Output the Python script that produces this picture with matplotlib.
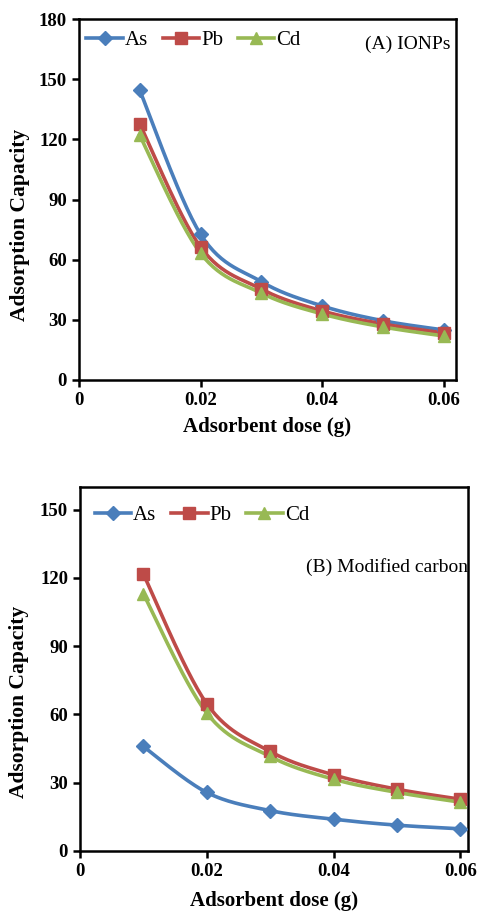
import numpy as np
import matplotlib
matplotlib.use("Agg")
import matplotlib.pyplot as plt

plt.rcParams['font.family'] = ['Liberation Serif', 'DejaVu Serif']

dose = [0.01, 0.02, 0.03, 0.04, 0.05, 0.06]

# (A) IONPs
as_a = [144.5, 72.7, 49.0, 36.9, 29.5, 24.9]
pb_a = [127.7, 66.3, 45.3, 34.4, 27.9, 23.4]
cd_a = [122.0, 63.2, 43.3, 32.9, 26.4, 21.9]

# (B) Modified carbon
as_b = [45.9, 25.7, 17.7, 13.9, 11.3, 9.7]
pb_b = [121.7, 64.7, 43.7, 33.4, 27.1, 22.7]
cd_b = [113.0, 60.6, 41.5, 31.5, 25.7, 21.4]

names = ['As', 'Pb', 'Cd']
colors = ['#4A7EBB', '#BE4B48', '#98B954']
markers = ['D', 's', '^']
msizes = [7, 9, 9]


def smooth(x, y, n=30):
    # catmull-rom style curve like the excel "smoothed line"
    x = np.asarray(x, float)
    y = np.asarray(y, float)
    px = np.concatenate([[x[0]], x, [x[-1]]])
    py = np.concatenate([[y[0]], y, [y[-1]]])
    xs, ys = [], []
    for i in range(1, len(px) - 2):
        p0 = np.array([px[i], py[i]])
        p3 = np.array([px[i + 1], py[i + 1]])
        p1 = p0 + (np.array([px[i + 1], py[i + 1]]) - np.array([px[i - 1], py[i - 1]])) / 6
        p2 = p3 - (np.array([px[i + 2], py[i + 2]]) - np.array([px[i], py[i]])) / 6
        t = np.linspace(0, 1, n)[:, None]
        pts = ((1 - t) ** 3) * p0 + 3 * ((1 - t) ** 2) * t * p1 + 3 * (1 - t) * t ** 2 * p2 + t ** 3 * p3
        xs.extend(pts[:, 0])
        ys.extend(pts[:, 1])
    return xs, ys


def panel(ax, series, ymax, xmax, label, label_xy, leg_xy, ylab_xy, xpad):
    for k, yv in enumerate(series):
        sx, sy = smooth(dose, yv)
        ax.plot(sx, sy, color=colors[k], lw=2.6, zorder=2)
        ax.plot(dose, yv, ls='none', marker=markers[k], ms=msizes[k],
                color=colors[k], zorder=3)
    handles = [plt.Line2D([], [], color=colors[k], lw=2.6, marker=markers[k],
                          ms=msizes[k]) for k in range(3)]
    ax.legend(handles, names, loc='upper left', bbox_to_anchor=leg_xy,
              ncol=3, frameon=False, fontsize=15, handlelength=1.75,
              handletextpad=0.1, columnspacing=0.7)
    ax.text(label_xy[0], label_xy[1], label, transform=ax.transAxes,
            ha='right', va='center', fontsize=14)
    ax.set_xlim(0, xmax)
    ax.set_ylim(0, ymax)
    ax.set_yticks([0, 30, 60, 90, 120, 150] + ([180] if ymax >= 180 else []))
    ax.set_xticks([0, 0.02, 0.04, 0.06])
    ax.set_xticklabels(['0', '0.02', '0.04', '0.06'])
    for s in ax.spines.values():
        s.set_linewidth(1.8)
    ax.tick_params(direction='out', width=1.8, length=5, labelsize=13.5)
    for t in ax.get_xticklabels() + ax.get_yticklabels():
        t.set_fontweight('bold')
    ax.set_xlabel('Adsorbent dose (g)', fontsize=15, fontweight='bold', labelpad=xpad)
    ax.set_ylabel('Adsorption Capacity', fontsize=15.5, fontweight='bold')
    ax.yaxis.set_label_coords(ylab_xy[0], ylab_xy[1])


fig = plt.figure(figsize=(4.81, 9.11), dpi=100)
ax1 = fig.add_axes([0.164, 0.583, 0.784, 0.396])
ax2 = fig.add_axes([0.166, 0.066, 0.807, 0.3996])

panel(ax1, [as_a, pb_a, cd_a], 180, 0.062, '(A) IONPs', (0.985, 0.93),
      (-0.03, 1.02), (-0.13, 0.43), 6)
panel(ax2, [as_b, pb_b, cd_b], 160, 0.0612, '(B) Modified carbon', (1.0, 0.78),
      (-0.01, 1.0), (-0.132, 0.41), 8)

fig.savefig('out.png', dpi=100)
